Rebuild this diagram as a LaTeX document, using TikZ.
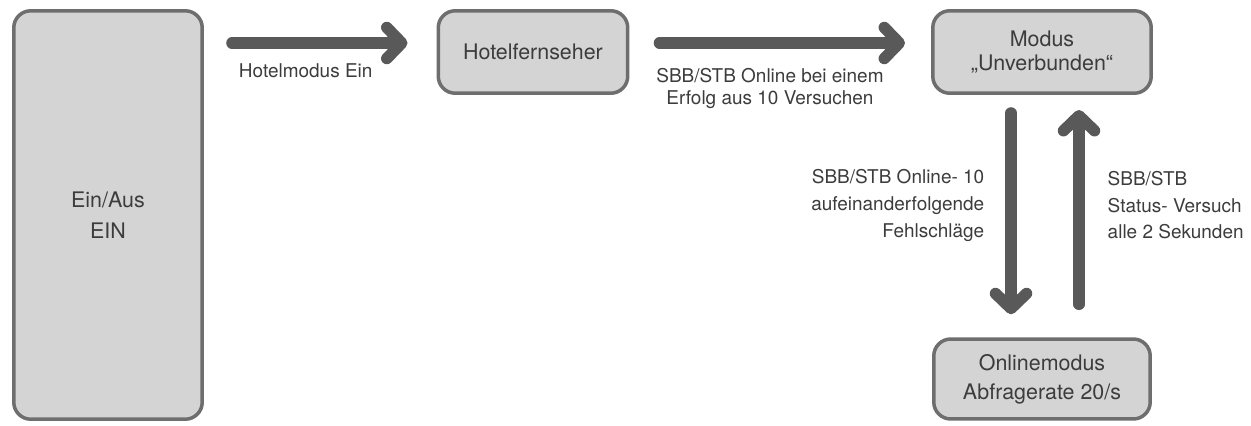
\documentclass[tikz,border=0pt]{standalone}
\usepackage{fontspec}
\setmainfont{TeX Gyre Heros}
\usetikzlibrary{arrows.meta}
\definecolor{boxfill}{HTML}{D4D4D4}
\definecolor{boxline}{HTML}{6E6E6E}
\definecolor{arrowgray}{HTML}{595959}
\definecolor{textgray}{HTML}{3C3C3C}
\begin{document}
\begin{tikzpicture}[x=0.02cm,y=-0.02cm,
  state/.style={draw=boxline, fill=boxfill, line width=0.07cm, rounded corners=0.34cm,
    align=center, text=textgray, inner sep=0pt, font=\fontsize{12.2}{15}\selectfont},
  flow/.style={draw=arrowgray, line width=0.23cm, line cap=round,
    -{Straight Barb[length=0.3cm, width=0.62cm, round]}},
  lbl/.style={text=textgray, inner sep=0pt, font=\fontsize{10.8}{12.5}\selectfont}]
\useasboundingbox (0,0) rectangle (1251,426);
% states
\node[state, minimum width=3.77cm, minimum height=8.17cm,
  font=\fontsize{12.2}{17.6}\selectfont] (einaus) at (108,215) {Ein/Aus\\EIN};
\node[state, minimum width=3.79cm, minimum height=1.65cm] (hotel) at (533,52) {Hotelfernseher};
\node[state, minimum width=4.37cm, minimum height=1.65cm,
  font=\fontsize{12.2}{14}\selectfont] (modus) at (1042,52) {Modus\\„Unverbunden“};
\node[state, minimum width=4.33cm, minimum height=1.6cm,
  font=\fontsize{12.2}{16.5}\selectfont] (online) at (1042,379) {Onlinemodus\\Abfragerate 20/s};
% transitions
\draw[flow] ([shift={(0.56cm,0.18cm)}]einaus.east |- hotel.west) --
  node[lbl, below=0.3cm, pos=0.42] {Hotelmodus Ein} ([shift={(-0.58cm,0.18cm)}]hotel.west);
\draw[flow] ([shift={(0.6cm,0.18cm)}]hotel.east) --
  node[lbl, below=0.4cm, pos=0.45, align=center] {SBB/STB Online bei einem\\Erfolg aus 10 Versuchen}
  ([shift={(-0.52cm,0.18cm)}]modus.west);
\draw[flow] ([shift={(-0.62cm,-0.36cm)}]modus.south) --
  node[lbl, left=0.42cm, pos=0.46, align=right, font=\fontsize{10.8}{15.5}\selectfont]
  {SBB/STB Online- 10\\aufeinanderfolgende\\Fehlschläge}
  ([shift={(-0.62cm,0.46cm)}]online.north);
\draw[flow] ([shift={(0.74cm,0.66cm)}]online.north) --
  node[lbl, right=0.46cm, pos=0.51, align=left, font=\fontsize{10.8}{15}\selectfont]
  {SBB/STB\\Status- Versuch\\alle 2 Sekunden}
  ([shift={(0.74cm,-0.3cm)}]modus.south);
\end{tikzpicture}
\end{document}
